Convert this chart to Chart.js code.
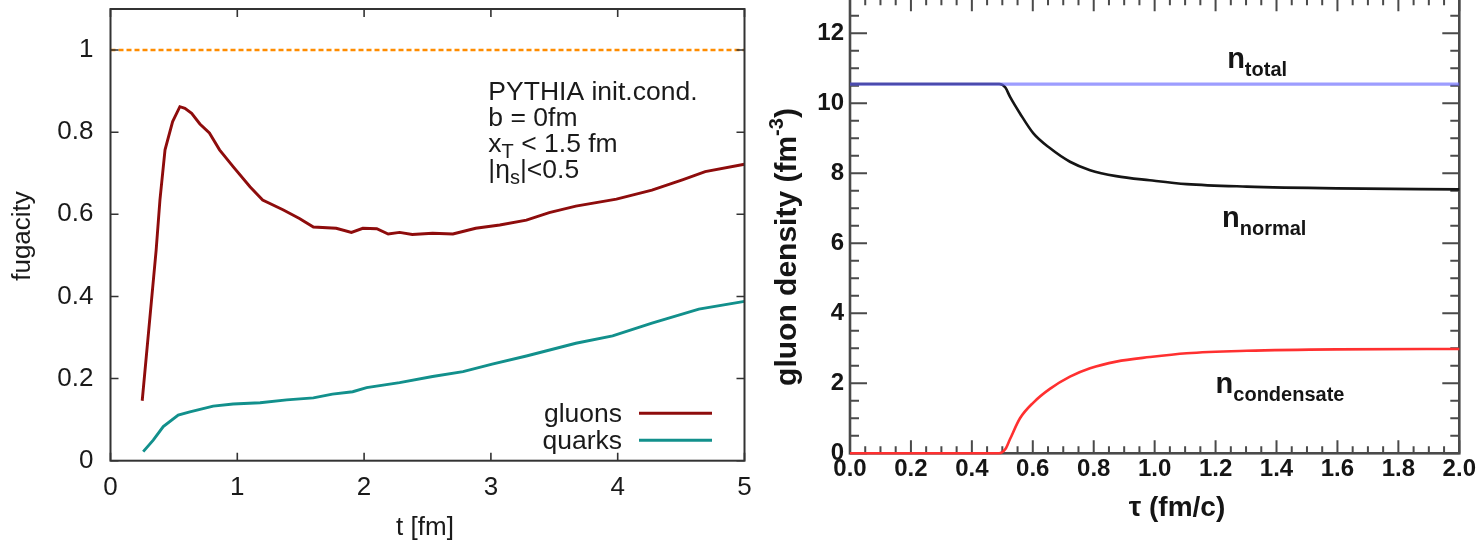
<!DOCTYPE html>
<html><head><meta charset="utf-8">
<script src="https://cdn.jsdelivr.net/npm/chart.js@4/dist/chart.umd.min.js"></script>
<style>
html,body{margin:0;padding:0;background:#fff;overflow:hidden;width:1480px;height:548px;}
#wrapL{position:absolute;left:0;top:0;width:760px;height:548px;}
#wrapR{position:absolute;left:750px;top:-10px;width:730px;height:558px;}
canvas{display:block;}
</style></head><body>
<div id="wrapL"><canvas id="left" width="760" height="548"></canvas></div>
<div id="wrapR"><canvas id="right" width="730" height="558"></canvas></div>
<script>
// ---------- Left panel data (fugacity vs t) ----------
const gluonT = [0.25,0.36,0.39,0.43,0.49,0.547,0.587,0.64,0.705,0.78,0.86,0.967,1.10,1.20,1.36,1.49,1.60,1.78,1.90,1.99,2.10,2.19,2.28,2.38,2.54,2.70,2.88,3.07,3.28,3.46,3.67,3.99,4.27,4.51,4.69,5.0];
const gluonF = [0.146,0.513,0.635,0.757,0.826,0.862,0.858,0.846,0.820,0.798,0.757,0.716,0.667,0.635,0.611,0.590,0.569,0.566,0.556,0.566,0.565,0.552,0.556,0.551,0.554,0.552,0.566,0.574,0.586,0.604,0.620,0.637,0.659,0.684,0.704,0.722];
const quarkT = [0.258,0.337,0.416,0.534,0.626,0.81,0.967,1.18,1.39,1.60,1.75,1.91,2.02,2.28,2.54,2.78,3.01,3.28,3.67,3.96,4.27,4.64,5.0];
const quarkF = [0.022,0.050,0.083,0.111,0.119,0.133,0.138,0.141,0.148,0.153,0.162,0.168,0.178,0.190,0.205,0.217,0.235,0.255,0.286,0.304,0.335,0.369,0.388];
const refT = [0, 5];
const refF = [1, 1];
const leftXTicks = [0,1,2,3,4,5];
const leftXLabels = ['0','1','2','3','4','5'];
const leftYTicks = [0,0.2,0.4,0.6,0.8,1];
const leftYLabels = ['0','0.2','0.4','0.6','0.8','1'];
const seriesNamesLeft = ['gluons','quarks'];

// ---------- Right panel data (gluon density vs tau) ----------
const tauTotal = [0, 2.0];
const nTotal = [10.55, 10.55];
const tauNormal = [0,0.49,0.51,0.525,0.558,0.602,0.656,0.722,0.788,0.874,0.984,1.105,1.302,1.597,2.0];
const nNormal = [10.55,10.55,10.45,10.19,9.71,9.14,8.72,8.33,8.09,7.92,7.80,7.69,7.62,7.57,7.54];
const tauCond = [0,0.49,0.51,0.525,0.558,0.602,0.656,0.722,0.788,0.874,0.984,1.105,1.302,1.597,2.0];
const nCond = [0,0,0.12,0.40,1.0,1.45,1.84,2.19,2.43,2.62,2.75,2.86,2.93,2.97,2.98];
const rightXTicks = [0,0.2,0.4,0.6,0.8,1.0,1.2,1.4,1.6,1.8,2.0];
const rightXLabels = ['0.0','0.2','0.4','0.6','0.8','1.0','1.2','1.4','1.6','1.8','2.0'];
const rightYTicks = [0,2,4,6,8,10,12];
const rightYLabels = ['0','2','4','6','8','10','12'];

const pts = (xs, ys) => xs.map((x, i) => ({x, y: ys[i]}));

function fixScale(size, horiz) {
  return function(scale) {
    if (horiz) scale.height = size; else scale.width = size;
    scale.paddingTop = 0; scale.paddingBottom = 0;
    scale.paddingLeft = 0; scale.paddingRight = 0;
  };
}
function setTicks(vals) {
  return function(scale) { scale.ticks = vals.map(v => ({value: v})); };
}
function minorList(min, max, step) {
  const out = [];
  for (let v = min; v <= max + 1e-9; v += step) out.push(+v.toFixed(4));
  return out;
}

function richWidth(ctx, parts) {
  let w = 0;
  for (const p of parts) { ctx.font = p.font; w += ctx.measureText(p.t).width; }
  return w;
}
function drawRich(ctx, x, y, parts) {
  let cx = x;
  for (const p of parts) {
    ctx.font = p.font;
    ctx.fillText(p.t, cx, y + (p.dy || 0));
    cx += ctx.measureText(p.t).width;
  }
}

// ---------- Frame + inward ticks plugin ----------
function frameTicks(o) {
  const draw = (chart) => {
    const {ctx, chartArea: a, scales: {x, y}} = chart;
    ctx.save();
    ctx.strokeStyle = o.color;
    ctx.lineWidth = o.tickWidth;
    ctx.beginPath();
    const drawX = (vals, len) => vals.forEach(v => {
      const px = x.getPixelForValue(v);
      ctx.moveTo(px, a.bottom); ctx.lineTo(px, a.bottom - len);
      ctx.moveTo(px, a.top); ctx.lineTo(px, a.top + len);
    });
    const drawY = (vals, len) => vals.forEach(v => {
      const py = y.getPixelForValue(v);
      ctx.moveTo(a.left, py); ctx.lineTo(a.left + len, py);
      ctx.moveTo(a.right, py); ctx.lineTo(a.right - len, py);
    });
    drawX(o.xMajor, o.xMajorLen);
    if (o.xMinor) drawX(o.xMinor, o.xMinorLen);
    drawY(o.yMajor, o.yMajorLen);
    if (o.yMinor) drawY(o.yMinor, o.yMinorLen);
    ctx.stroke();
    ctx.lineWidth = o.frameWidth;
    ctx.strokeRect(a.left, a.top, a.right - a.left, a.bottom - a.top);
    ctx.restore();
  };
  return o.under
    ? {id: 'frameTicks', beforeDatasetsDraw: draw}
    : {id: 'frameTicks', afterDatasetsDraw: draw};
}

// ---------- Left chart ----------
const LF = '"Liberation Sans", Arial, sans-serif';
const leftText = {
  id: 'leftText',
  afterDraw(chart) {
    const {ctx, scales: {x, y}} = chart;
    ctx.save();
    ctx.fillStyle = '#1a1a1a';
    ctx.font = '26px ' + LF;
    ctx.textAlign = 'center';
    ctx.textBaseline = 'middle';
    ctx.fillText('t [fm]', 425, 528);
    ctx.save();
    ctx.translate(23, 236);
    ctx.rotate(-Math.PI / 2);
    ctx.fillText('fugacity', 0, 0);
    ctx.restore();
    // annotation
    ctx.textAlign = 'left';
    ctx.textBaseline = 'alphabetic';
    const ax = x.getPixelForValue(2.98);
    const ay = y.getPixelForValue(0.879);
    const big = '26.5px ' + LF, small = '20px ' + LF;
    drawRich(ctx, ax, ay, [{t: 'PYTHIA init.cond.', font: big}]);
    drawRich(ctx, ax, ay + 26, [{t: 'b = 0fm', font: big}]);
    drawRich(ctx, ax, ay + 52, [{t: 'x', font: big}, {t: 'T', font: small, dy: 6}, {t: ' < 1.5 fm', font: big}]);
    drawRich(ctx, ax, ay + 78, [{t: '|η', font: big}, {t: 's', font: small, dy: 6}, {t: '|<0.5', font: big}]);
    // legend
    const ds = chart.data.datasets;
    ctx.font = big;
    ctx.textAlign = 'right';
    for (let i = 0; i < 2; i++) {
      const base = 421.7 + i * 27;
      ctx.fillStyle = '#1a1a1a';
      ctx.fillText(ds[i].label, 622, base);
      ctx.strokeStyle = ds[i].borderColor;
      ctx.lineWidth = ds[i].borderWidth;
      ctx.beginPath();
      ctx.moveTo(639, base - 8.5);
      ctx.lineTo(712, base - 8.5);
      ctx.stroke();
    }
    ctx.restore();
  }
};

new Chart(document.getElementById('left'), {
  type: 'scatter',
  data: {
    datasets: [
      {label: seriesNamesLeft[0], data: pts(gluonT, gluonF), showLine: true, borderColor: '#8e0c0c', borderWidth: 2.9, pointRadius: 0, tension: 0},
      {label: seriesNamesLeft[1], data: pts(quarkT, quarkF), showLine: true, borderColor: '#12908c', borderWidth: 2.9, pointRadius: 0, tension: 0},
      {label: 'ref', data: pts(refT, refF), showLine: true, borderColor: '#ff8c00', borderWidth: 2.4, borderDash: [5, 3], pointRadius: 0}
    ]
  },
  options: {
    responsive: false, animation: false, devicePixelRatio: 1, events: [],
    layout: {padding: {left: 0, top: 9, right: 15.5, bottom: 0}, autoPadding: false},
    plugins: {legend: {display: false}, tooltip: {enabled: false}},
    scales: {
      x: {
        type: 'linear', min: 0, max: 5,
        afterFit: fixScale(87.3, true),
        afterBuildTicks: setTicks(leftXTicks),
        grid: {display: false, drawTicks: false},
        border: {display: false},
        ticks: {autoSkip: false, maxRotation: 0, minRotation: 0, padding: 12,
          font: {family: 'Liberation Sans', size: 26}, color: '#1a1a1a',
          callback: (v, i) => leftXLabels[i]}
      },
      y: {
        type: 'linear', min: 0, max: 1.1,
        afterFit: fixScale(110.5, false),
        afterBuildTicks: setTicks(leftYTicks),
        grid: {display: false, drawTicks: false},
        border: {display: false},
        ticks: {autoSkip: false, padding: 17,
          font: {family: 'Liberation Sans', size: 26}, color: '#1a1a1a',
          callback: (v, i) => leftYLabels[i]}
      }
    }
  },
  plugins: [frameTicks({color: '#333', tickWidth: 1.6, frameWidth: 2,
    xMajor: leftXTicks, xMajorLen: 8, yMajor: leftYTicks, yMajorLen: 8}), leftText]
});

// ---------- Right chart ----------
const BF = 'bold ';
const rightText = {
  id: 'rightText',
  afterDraw(chart) {
    const {ctx, scales: {x, y}} = chart;
    ctx.save();
    ctx.fillStyle = '#151515';
    ctx.textAlign = 'center';
    ctx.textBaseline = 'middle';
    ctx.font = BF + '28px ' + LF;
    ctx.fillText('τ (fm/c)', 427, 518);
    ctx.textAlign = 'left';
    ctx.textBaseline = 'alphabetic';
    const tf = BF + '30px ' + LF, sf = BF + '20px ' + LF;
    const parts = [{t: 'gluon density (fm', font: tf}, {t: '-3', font: sf, dy: -13}, {t: ')', font: tf}];
    const w = richWidth(ctx, parts);
    ctx.save();
    ctx.translate(46, 257);
    ctx.rotate(-Math.PI / 2);
    drawRich(ctx, -w / 2, 0, parts);
    ctx.restore();
    const nf = BF + '29px ' + LF, subf = BF + '20px ' + LF;
    const lab = (tau, n, sub) => {
      drawRich(ctx, x.getPixelForValue(tau), y.getPixelForValue(n),
        [{t: 'n', font: nf}, {t: sub, font: subf, dy: 8}]);
    };
    lab(1.238, 11.0, 'total');
    lab(1.221, 6.47, 'normal');
    lab(1.200, 1.71, 'condensate');
    ctx.restore();
  }
};

new Chart(document.getElementById('right'), {
  type: 'scatter',
  data: {
    datasets: [
      {label: 'n_total', data: pts(tauTotal, nTotal), showLine: true, borderColor: 'rgba(105,105,255,0.65)', borderWidth: 3.2, pointRadius: 0, clip: false},
      {label: 'n_condensate', data: pts(tauCond, nCond), showLine: true, borderColor: '#ff3030', borderWidth: 2.6, pointRadius: 0, cubicInterpolationMode: 'monotone', clip: false},
      {label: 'n_normal', data: pts(tauNormal, nNormal), showLine: true, borderColor: '#151515', borderWidth: 2.6, pointRadius: 0, cubicInterpolationMode: 'monotone', clip: false}
    ]
  },
  options: {
    responsive: false, animation: false, devicePixelRatio: 1, events: [],
    layout: {padding: {left: 0, top: 8.3, right: 20.7, bottom: 0}, autoPadding: false},
    plugins: {legend: {display: false}, tooltip: {enabled: false}},
    scales: {
      x: {
        type: 'linear', min: 0, max: 2,
        afterFit: fixScale(94.7, true),
        afterBuildTicks: setTicks(rightXTicks),
        grid: {display: false, drawTicks: false},
        border: {display: false},
        ticks: {autoSkip: false, maxRotation: 0, minRotation: 0, padding: 2,
          font: {family: 'Liberation Sans', size: 24, weight: 'bold'}, color: '#151515',
          callback: (v, i) => rightXLabels[i]}
      },
      y: {
        type: 'linear', min: 0, max: 13,
        afterFit: fixScale(100, false),
        afterBuildTicks: setTicks(rightYTicks),
        grid: {display: false, drawTicks: false},
        border: {display: false},
        ticks: {autoSkip: false, padding: 6,
          font: {family: 'Liberation Sans', size: 24, weight: 'bold'}, color: '#151515',
          callback: (v, i) => rightYLabels[i]}
      }
    }
  },
  plugins: [frameTicks({under: true, color: '#4a4a4a', tickWidth: 2, frameWidth: 2.6,
    xMajor: rightXTicks, xMajorLen: 13, xMinor: minorList(0, 2, 0.05), xMinorLen: 7,
    yMajor: rightYTicks, yMajorLen: 17, yMinor: minorList(0, 13, 0.5), yMinorLen: 9}), rightText]
});
</script>
</body></html>
